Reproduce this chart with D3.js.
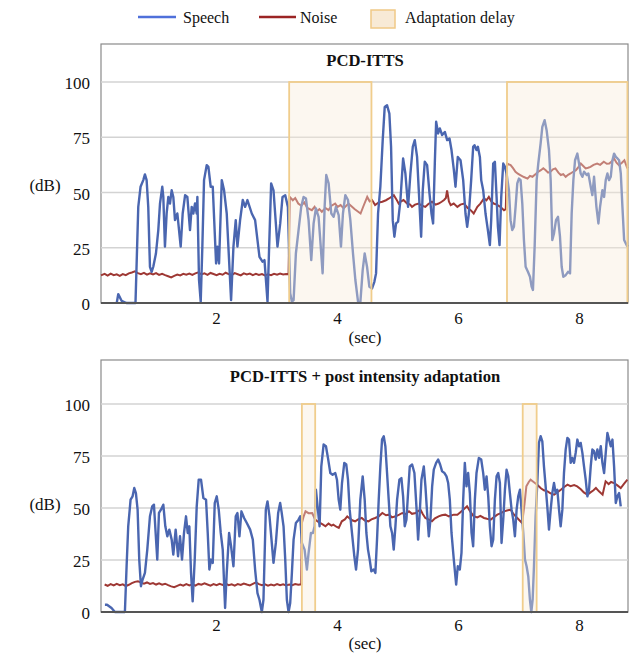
<!DOCTYPE html>
<html>
<head>
<meta charset="utf-8">
<script src="https://cdn.jsdelivr.net/npm/d3@7"></script>
<style>
  body { margin: 0; background: #fff; }
  text { font-family: "Liberation Serif", "Times New Roman", serif; fill: #111; }
</style>
</head>
<body>
<div id="chart"></div>
<script>
// time (sec) and level (dB) pairs
var yTicks = [0, 25, 50, 75, 100];
var xTicks = [2, 4, 6, 8];
var legendLabels = ["Speech", "Noise", "Adaptation delay"];
var titles = ["PCD-ITTS", "PCD-ITTS + post intensity adaptation"];

var topDelay = [[3.2, 4.56], [6.8, 8.79]];
var bottomDelay = [[3.41, 3.63], [7.06, 7.29]];

var topSpeech = [[0.35,0],[0.375,4],[0.43,1],[0.51,0],[0.66,0],[0.706,43.5],[0.744,52.6],[0.789,55.6],[0.816,58.2],[0.844,55.6],[0.871,43.5],[0.899,16.4],[0.927,14.1],[0.954,16.4],[0.998,22.4],[1.037,33],[1.065,45],[1.103,52.6],[1.12,48],[1.147,25.5],[1.175,40.5],[1.203,48],[1.23,45],[1.258,51],[1.285,48],[1.313,37.5],[1.352,40.5],[1.407,25.5],[1.44,40.5],[1.48,48.8],[1.517,48],[1.561,33],[1.589,43.5],[1.616,40.5],[1.644,45],[1.672,40.5],[1.683,48],[1.71,10.4],[1.738,0.6],[1.765,25.5],[1.793,55.6],[1.837,62.4],[1.865,61.6],[1.903,52.6],[1.937,52.6],[1.992,17.9],[2.014,25.5],[2.041,17.9],[2.086,55.6],[2.124,51],[2.168,40.5],[2.24,1.3],[2.279,25.5],[2.317,37.5],[2.345,25.5],[2.389,37.5],[2.433,46.6],[2.472,43.5],[2.51,46.6],[2.582,40.5],[2.637,37.5],[2.709,20.9],[2.759,18.7],[2.792,19.4],[2.842,0.6],[2.869,25.5],[2.902,54.1],[2.941,51],[3.007,25.5],[3.052,36],[3.09,48],[3.135,48.8],[3.179,43.5],[3.217,4.4],[3.245,0.6],[3.273,1.3],[3.311,22.4],[3.355,33],[3.399,43.5],[3.438,48],[3.477,47.3],[3.521,37.5],[3.565,19.4],[3.604,36],[3.642,42.8],[3.686,39],[3.714,28.5],[3.753,13.4],[3.786,43.5],[3.813,57.9],[3.852,54.1],[3.896,40.5],[3.935,39],[3.973,43.5],[4.018,39.8],[4.056,25.5],[4.089,40.5],[4.128,48.8],[4.172,46.6],[4.211,37.5],[4.255,22.4],[4.294,10.4],[4.338,0.6],[4.376,0.2],[4.415,14.9],[4.448,22.4],[4.487,16.4],[4.525,7.4],[4.57,6.6],[4.608,9.6],[4.636,13.4],[4.669,40.5],[4.707,52.6],[4.746,73.7],[4.779,88.7],[4.818,89.5],[4.856,85.7],[4.884,70.7],[4.912,37.5],[4.939,30],[4.967,36],[5.0,36.8],[5.039,46.6],[5.083,65.4],[5.121,58.6],[5.165,43.5],[5.204,58.6],[5.243,70.7],[5.276,73.7],[5.314,66.1],[5.342,51],[5.381,30],[5.408,51],[5.441,63.9],[5.48,62.4],[5.519,49.6],[5.552,40.5],[5.579,36],[5.607,63.1],[5.629,82],[5.662,76.7],[5.69,79],[5.728,76],[5.773,77.4],[5.811,73.7],[5.85,74.4],[5.883,69.2],[5.922,60.1],[5.949,52.6],[5.987,66.1],[6.032,64.6],[6.076,55.6],[6.114,40.5],[6.142,34.5],[6.17,40.5],[6.208,55.6],[6.241,70.7],[6.263,71.4],[6.296,69.2],[6.319,70.7],[6.352,66.1],[6.374,55.6],[6.407,51],[6.445,40.5],[6.484,33],[6.517,26.2],[6.539,37.5],[6.572,63.1],[6.6,63.9],[6.628,48],[6.65,34.5],[6.677,26.2],[6.705,48],[6.738,63.1],[6.766,61.6],[6.793,58.6],[6.832,51],[6.859,37.5],[6.887,33],[6.915,34.5],[6.942,43.5],[6.97,54.1],[6.997,56.3],[7.025,55.6],[7.053,45],[7.08,28.5],[7.108,16.4],[7.146,14.1],[7.18,11.9],[7.207,7.4],[7.229,5.9],[7.257,25.5],[7.29,55.6],[7.317,63.1],[7.356,72.2],[7.384,79.7],[7.422,82.7],[7.455,78.2],[7.494,69.2],[7.522,55.6],[7.549,28.5],[7.577,31.5],[7.61,37.5],[7.643,39],[7.676,30],[7.704,16.4],[7.731,11.9],[7.77,12.6],[7.809,14.1],[7.842,13.4],[7.869,40.5],[7.897,55.6],[7.925,64.6],[7.963,67.6],[7.991,63.1],[8.018,58.6],[8.046,57.1],[8.074,59.4],[8.118,57.9],[8.145,58.6],[8.184,52.6],[8.211,48.8],[8.239,57.1],[8.278,43.5],[8.311,36],[8.338,43.5],[8.377,51],[8.405,48],[8.432,55.6],[8.46,58.6],[8.487,55.6],[8.515,57.1],[8.543,64.6],[8.57,67.6],[8.598,66.1],[8.626,65.4],[8.653,64.6],[8.681,58.6],[8.708,43.5],[8.736,28.5],[8.764,27],[8.791,25.5]];

var topNoise = [[0.09,12.5],[0.15,13.2],[0.2,12.4],[0.25,13.3],[0.3,12.6],[0.35,13.0],[0.4,12.3],[0.45,13.1],[0.5,12.6],[0.55,13.4],[0.6,13.8],[0.65,14.3],[0.7,13.5],[0.75,13.0],[0.8,13.6],[0.85,12.8],[0.9,13.4],[0.95,12.9],[1.0,13.5],[1.05,12.7],[1.1,13.2],[1.15,12.6],[1.2,12.1],[1.25,11.6],[1.3,12.3],[1.35,12.9],[1.4,12.5],[1.45,13.2],[1.5,12.8],[1.55,13.3],[1.6,12.7],[1.65,13.4],[1.7,13.9],[1.75,12.9],[1.8,13.4],[1.85,12.7],[1.9,13.6],[1.95,13.1],[2.0,12.6],[2.05,13.2],[2.1,12.8],[2.15,13.7],[2.2,13.1],[2.25,12.6],[2.3,13.5],[2.35,13.0],[2.4,12.5],[2.45,13.4],[2.5,12.9],[2.55,13.3],[2.6,12.6],[2.65,13.2],[2.7,12.7],[2.75,13.1],[2.8,12.5],[2.85,13.0],[2.9,12.6],[2.95,13.2],[3.0,12.8],[3.05,13.3],[3.1,12.9],[3.15,13.1],[3.19,13.0],[3.21,48],[3.26,46.5],[3.3,47.5],[3.35,45],[3.4,44],[3.45,45.5],[3.5,43],[3.575,42],[3.62,43.5],[3.66,41.5],[3.7,42.5],[3.74,41.3],[3.8,43],[3.85,42],[3.9,44],[3.96,45],[4.0,43.5],[4.05,44.3],[4.1,42.8],[4.18,45],[4.22,44],[4.28,42.5],[4.33,41.5],[4.38,40.5],[4.43,44],[4.49,48],[4.53,46],[4.57,46.6],[4.62,44.3],[4.68,45.5],[4.74,45.8],[4.8,46.5],[4.85,47.3],[4.93,48.8],[4.97,47],[5.01,45],[5.05,46],[5.09,46.6],[5.15,45],[5.2,44.5],[5.23,43.5],[5.28,44.5],[5.34,45],[5.4,44],[5.45,43.5],[5.5,44.8],[5.56,45.8],[5.62,44.5],[5.67,45],[5.72,45.8],[5.76,46.6],[5.79,47.5],[5.81,51],[5.84,46],[5.87,44.3],[5.92,45],[5.98,43.5],[6.03,44.5],[6.09,45],[6.15,43],[6.2,42],[6.25,40.5],[6.31,43.5],[6.36,45],[6.42,47.3],[6.46,46.5],[6.5,48],[6.54,46],[6.58,45],[6.63,44.5],[6.69,43.5],[6.75,42],[6.78,42.5],[6.8,63.1],[6.86,62.4],[6.9,61],[6.94,59.4],[6.98,58.5],[7.02,57.9],[7.08,57],[7.14,56.3],[7.18,57.5],[7.22,57.1],[7.28,58.5],[7.32,59.5],[7.36,60.1],[7.4,61],[7.44,60.1],[7.48,59],[7.52,59.4],[7.56,60.5],[7.6,60.9],[7.65,59],[7.69,57.9],[7.73,58.3],[7.77,57.1],[7.81,58],[7.85,58.6],[7.9,59.5],[7.94,60.1],[7.98,61.5],[8.02,63.1],[8.06,62],[8.1,60.9],[8.14,61.2],[8.18,61.6],[8.23,62.5],[8.29,63.1],[8.34,62.5],[8.4,63.9],[8.45,63],[8.49,63.1],[8.53,64],[8.57,65.4],[8.61,63.5],[8.65,62.4],[8.7,63.5],[8.74,64.6],[8.79,60.9]];

var bottomSpeech = [[0.155,3.5],[0.19,3.5],[0.264,1.9],[0.32,0],[0.485,0],[0.513,22],[0.54,41.2],[0.579,54],[0.612,55.6],[0.64,59.6],[0.667,57.2],[0.695,49.2],[0.722,25.2],[0.75,12.4],[0.778,15.6],[0.816,18.8],[0.855,30],[0.899,46],[0.937,50.8],[0.965,51.6],[0.993,38],[1.02,25.2],[1.048,47.6],[1.081,49.2],[1.12,51.6],[1.153,41.2],[1.186,36.4],[1.219,39.6],[1.258,34.8],[1.285,27.6],[1.324,39.6],[1.363,26.8],[1.396,36.4],[1.429,25.2],[1.462,38],[1.495,46],[1.523,38],[1.55,41.2],[1.578,18.8],[1.605,5.1],[1.639,25.2],[1.672,50.8],[1.705,63.6],[1.743,63.6],[1.782,54.8],[1.826,54],[1.854,38],[1.881,20.4],[1.909,25.2],[1.937,23.6],[1.97,52.4],[2.003,55.6],[2.036,49.2],[2.069,38],[2.102,30],[2.141,1.9],[2.168,18.8],[2.207,38],[2.24,31.6],[2.279,22],[2.317,46],[2.345,47.6],[2.378,36.4],[2.411,48.4],[2.455,45.2],[2.5,42.8],[2.555,39.6],[2.599,34.8],[2.637,20.4],[2.676,9.1],[2.709,5.9],[2.748,0],[2.775,5.9],[2.814,49.2],[2.842,53.2],[2.875,46],[2.908,34.8],[2.941,23.6],[2.98,33.2],[3.018,47.6],[3.051,52.4],[3.075,48],[3.107,41.2],[3.135,25.2],[3.162,5.9],[3.19,0],[3.217,4.3],[3.245,18.8],[3.273,34.8],[3.311,42.8],[3.355,44.4],[3.383,46],[3.41,33.2],[3.455,30],[3.493,20.4],[3.521,28.4],[3.56,38],[3.593,38],[3.62,41.2],[3.642,58.8],[3.675,49.2],[3.703,41.2],[3.731,70],[3.769,80.5],[3.808,79.7],[3.841,74.1],[3.88,66.8],[3.918,66],[3.962,66.8],[3.99,63.6],[4.018,54],[4.045,49.2],[4.073,62],[4.111,71.7],[4.144,70.9],[4.172,63.6],[4.2,49.2],[4.238,38],[4.277,26.8],[4.305,20.4],[4.338,30],[4.376,54],[4.415,65.2],[4.448,54],[4.476,38],[4.503,30],[4.531,25.2],[4.558,19.6],[4.597,20.4],[4.625,18.8],[4.652,34.8],[4.68,54],[4.707,70],[4.735,82.9],[4.763,84.5],[4.79,79.7],[4.818,66.8],[4.845,54],[4.873,41.2],[4.901,38],[4.928,30],[4.956,41.2],[4.984,54],[5.022,63.6],[5.055,64.4],[5.083,55.6],[5.11,41.2],[5.138,44.4],[5.165,57.2],[5.193,70],[5.232,70.9],[5.27,66.8],[5.303,50.8],[5.331,34.8],[5.358,47.6],[5.386,63.6],[5.425,70],[5.452,60.4],[5.48,47.6],[5.508,36.4],[5.535,44.4],[5.563,60.4],[5.59,68.4],[5.629,71.7],[5.662,73.3],[5.695,70.9],[5.728,67.6],[5.767,66.8],[5.8,65.2],[5.828,62],[5.855,54],[5.883,38],[5.921,25.2],[5.96,13.2],[5.987,22],[6.02,20.4],[6.048,28.4],[6.076,54],[6.103,71.7],[6.131,60.4],[6.158,66.8],[6.186,57.2],[6.214,38],[6.241,31.6],[6.269,54],[6.296,66.8],[6.335,74.1],[6.374,73.3],[6.407,66.8],[6.434,58.8],[6.462,65.2],[6.49,55.6],[6.517,41.2],[6.545,31.6],[6.572,34.8],[6.6,54],[6.628,65.2],[6.655,66.8],[6.683,62],[6.71,33.2],[6.738,44.4],[6.766,58.8],[6.793,68.4],[6.821,65.2],[6.848,57.2],[6.876,49.2],[6.903,44.4],[6.931,36.4],[6.959,49.2],[6.986,55.6],[7.014,58.8],[7.041,49.2],[7.069,38],[7.097,25.2],[7.124,22],[7.152,17.1],[7.179,5.9],[7.202,0],[7.224,5.9],[7.246,22],[7.273,46],[7.301,62],[7.328,81.3],[7.356,84.5],[7.384,82],[7.411,70],[7.439,60.4],[7.466,50.8],[7.494,39.6],[7.522,49.2],[7.549,57.2],[7.577,62],[7.604,57.2],[7.632,58.8],[7.66,49.2],[7.687,41.2],[7.715,49.2],[7.742,66.8],[7.77,78.1],[7.798,83.7],[7.825,82.9],[7.853,71.7],[7.88,74.1],[7.908,71.7],[7.935,76.5],[7.963,82.9],[7.991,79.7],[8.018,81.3],[8.046,76.5],[8.073,70],[8.101,63.6],[8.129,55.6],[8.156,58.8],[8.184,70],[8.211,78.1],[8.239,77.3],[8.266,73.3],[8.294,78.1],[8.322,74.1],[8.35,79.7],[8.377,71.7],[8.405,66.8],[8.432,76.5],[8.46,86.1],[8.487,82.9],[8.515,79.7],[8.543,82.9],[8.57,70],[8.598,52.4],[8.625,55.6],[8.653,57.2],[8.68,50.8]];

var bottomNoise = [[0.15,13.2],[0.2,12.6],[0.25,13.4],[0.3,12.8],[0.35,13.5],[0.4,12.9],[0.45,13.3],[0.5,12.4],[0.55,13.1],[0.6,13.9],[0.65,14.5],[0.7,14.8],[0.75,14.1],[0.8,13.6],[0.85,14.2],[0.9,13.5],[0.95,13.9],[1.0,13.2],[1.05,13.8],[1.1,13.1],[1.15,13.6],[1.2,12.9],[1.25,12.3],[1.3,11.9],[1.35,12.6],[1.4,13.2],[1.45,12.7],[1.5,13.4],[1.55,12.8],[1.6,13.3],[1.65,12.7],[1.7,13.5],[1.75,13.1],[1.8,13.8],[1.85,13.2],[1.9,12.7],[1.95,13.4],[2.0,12.9],[2.05,13.5],[2.1,13.0],[2.15,13.6],[2.2,12.9],[2.25,13.3],[2.3,12.7],[2.35,13.4],[2.4,13.0],[2.45,13.7],[2.5,13.2],[2.55,12.8],[2.6,13.5],[2.65,14.2],[2.7,13.4],[2.75,12.9],[2.8,13.3],[2.85,12.7],[2.9,13.2],[2.95,12.8],[3.0,13.4],[3.05,12.9],[3.1,13.3],[3.15,12.8],[3.2,13.2],[3.25,12.9],[3.3,13.4],[3.35,13.1],[3.4,13.3],[3.41,42.8],[3.44,46],[3.47,48.4],[3.52,47.5],[3.58,47.6],[3.63,44.4],[3.67,43.5],[3.71,42.8],[3.76,42],[3.8,41.2],[3.85,42.5],[3.9,41.5],[3.93,42],[3.98,41],[4.02,40.4],[4.07,43.6],[4.12,44.5],[4.16,46],[4.2,45],[4.25,44],[4.29,43.6],[4.34,44.5],[4.4,45.2],[4.45,44],[4.51,43.6],[4.56,44.5],[4.62,45.2],[4.68,46],[4.74,47.6],[4.8,46.5],[4.85,46.8],[4.9,45.5],[4.96,46],[5.02,46.8],[5.07,47.6],[5.12,47],[5.18,48.4],[5.23,47.2],[5.29,47.6],[5.33,48.5],[5.37,49.2],[5.41,47],[5.45,45.2],[5.5,44.5],[5.56,43.6],[5.61,45],[5.67,46],[5.72,46.5],[5.78,46.8],[5.84,46],[5.92,46.8],[5.98,46.8],[6.03,48],[6.09,49.5],[6.14,50.8],[6.2,48],[6.25,46],[6.31,45.5],[6.36,46.2],[6.42,45.2],[6.47,44.8],[6.53,44.4],[6.58,45.5],[6.64,46.8],[6.7,47.5],[6.75,48.4],[6.8,48.8],[6.86,49.2],[6.91,47],[6.97,45.2],[7.01,44],[7.05,42.8],[7.09,52],[7.12,60.4],[7.16,62.5],[7.19,63.6],[7.24,62.5],[7.3,61.2],[7.36,59.5],[7.41,58.5],[7.47,58],[7.52,57],[7.58,56.4],[7.63,57.5],[7.69,58.8],[7.74,60],[7.8,61.2],[7.85,60.5],[7.91,61],[7.96,60.4],[8.02,59],[8.07,57.5],[8.13,56.4],[8.18,57.5],[8.23,58.5],[8.27,59.6],[8.32,58],[8.38,56.4],[8.43,62.8],[8.48,61.5],[8.52,62.5],[8.57,62],[8.62,61],[8.68,59.6],[8.73,61.5],[8.79,63.6]];

var speechColor = "#4a66b0",
  noiseColor = "#9e3834",
  delayFill = "rgb(247,235,217)",
  delayStroke = "#f0cd8c";

var svg = d3
  .select("#chart")
  .append("svg")
  .attr("width", 634)
  .attr("height", 654);

// legend
var legend = svg.append("g");
legend.append("line").attr("x1", 138).attr("x2", 176).attr("y1", 17).attr("y2", 17)
  .style("stroke", "#4f70da").style("stroke-width", 2.5);
legend.append("text").attr("x", 183).attr("y", 23).style("font-size", "16px").text(legendLabels[0]);
legend.append("line").attr("x1", 259).attr("x2", 296).attr("y1", 17).attr("y2", 17)
  .style("stroke", "#9b2424").style("stroke-width", 2.5);
legend.append("text").attr("x", 300).attr("y", 23).style("font-size", "16px").text(legendLabels[1]);
legend.append("rect").attr("x", 371).attr("y", 10).attr("width", 24).attr("height", 18)
  .style("fill", "#f8ead6").style("stroke", "#f0c987").style("stroke-width", 1.5);
legend.append("text").attr("x", 405).attr("y", 23).style("font-size", "16px").text(legendLabels[2]);

function drawPanel(opt) {
  var x = d3.scaleLinear().domain([0.09, 8.8]).range([101, 628]);
  var y = d3.scaleLinear().domain([0, 100]).range([opt.bottom, opt.top100]);
  var g = svg.append("g");

  g.append("rect")
    .attr("x", 101).attr("y", opt.boxTop)
    .attr("width", 527).attr("height", opt.bottom - opt.boxTop)
    .style("fill", "#fff").style("stroke", "#8a8a8a").style("stroke-width", 1.2);

  // gridlines
  g.selectAll(".grid")
    .data(yTicks.filter(function (d) { return d > 0; }))
    .enter()
    .append("line")
    .attr("x1", 101).attr("x2", 628)
    .attr("y1", function (d) { return y(d); })
    .attr("y2", function (d) { return y(d); })
    .style("stroke", "#d3d3d3").style("stroke-width", 1.5);

  var line = d3.line()
    .x(function (d) { return x(d[0]); })
    .y(function (d) { return y(d[1]); });

  g.append("path").datum(opt.noise).attr("d", line)
    .style("fill", "none").style("stroke", noiseColor).style("stroke-width", 2);
  g.append("path").datum(opt.speech).attr("d", line)
    .style("fill", "none").style("stroke", speechColor).style("stroke-width", 2.4)
    .style("stroke-linejoin", "round");

  // adaptation delay boxes drawn over the lines
  g.selectAll(".delay")
    .data(opt.delay)
    .enter()
    .append("rect")
    .attr("x", function (d) { return x(d[0]); })
    .attr("y", y(100))
    .attr("width", function (d) { return x(d[1]) - x(d[0]); })
    .attr("height", y(0) - y(100))
    .style("fill", delayFill).style("fill-opacity", 0.4)
    .style("stroke", delayStroke).style("stroke-width", 1.8);

  // bottom axis line
  g.append("line").attr("x1", 101).attr("x2", 628)
    .attr("y1", y(0)).attr("y2", y(0))
    .style("stroke", "#555").style("stroke-width", 2);

  g.selectAll(".ylab")
    .data(yTicks)
    .enter()
    .append("text")
    .attr("x", 90)
    .attr("y", function (d) { return y(d) + 7; })
    .style("text-anchor", "end")
    .style("font-size", "17px")
    .text(function (d) { return d; });

  g.selectAll(".xlab")
    .data(xTicks)
    .enter()
    .append("text")
    .attr("x", function (d) { return x(d); })
    .attr("y", opt.bottom + opt.xlabDy)
    .style("text-anchor", "middle")
    .style("font-size", "17px")
    .text(function (d) { return d; });

  g.append("text")
    .attr("x", 45).attr("y", opt.dbY)
    .style("text-anchor", "middle").style("font-size", "17px")
    .text("(dB)");
  g.append("text")
    .attr("x", 365).attr("y", opt.bottom + opt.secDy)
    .style("text-anchor", "middle").style("font-size", "17px")
    .text("(sec)");
  g.append("text")
    .attr("x", 365).attr("y", opt.boxTop + 22)
    .style("text-anchor", "middle").style("font-size", "16.6px").style("font-weight", "bold")
    .text(opt.title);
}

drawPanel({ boxTop: 44, top100: 82, bottom: 303, dbY: 191, xlabDy: 21, secDy: 40,
  title: titles[0], speech: topSpeech, noise: topNoise, delay: topDelay });
drawPanel({ boxTop: 360, top100: 404, bottom: 612, dbY: 510, xlabDy: 19, secDy: 37,
  title: titles[1], speech: bottomSpeech, noise: bottomNoise, delay: bottomDelay });
</script>
</body>
</html>
